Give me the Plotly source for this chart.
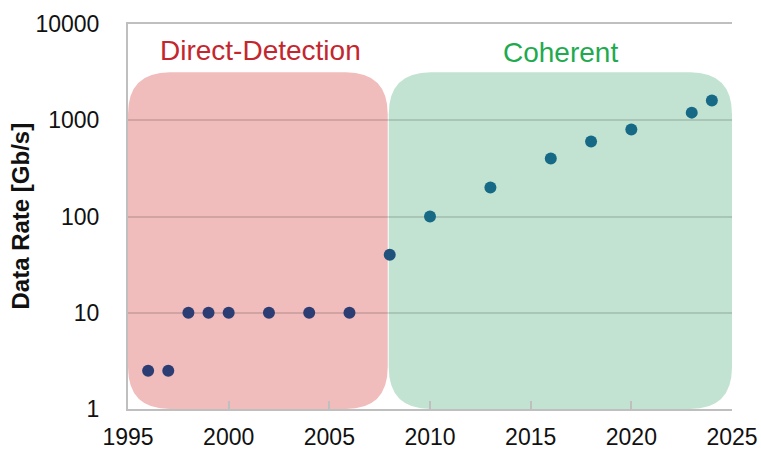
import math
import plotly.graph_objects as go

# ---- data ----
dd_years = [1996, 1997, 1998, 1999, 2000, 2002, 2004, 2006]
dd_rates = [2.5, 2.5, 10, 10, 10, 10, 10, 10]
tr_years = [2008]
tr_rates = [40]
coh_years = [2010, 2013, 2016, 2018, 2020, 2023, 2024]
coh_rates = [100, 200, 400, 600, 800, 1200, 1600]

x_ticks = [1995, 2000, 2005, 2010, 2015, 2020, 2025]
y_ticks = [1, 10, 100, 1000, 10000]
y_tick_text = ["1", "10", "100", "1000", "10000"]

regions = ["Direct-Detection", "Coherent"]
region_x0 = [1995, 2007.95]
region_x1 = [2007.9, 2025]
region_top = 10 ** 3.5
region_fill = ["#F0BCBC", "#C2E3D1"]
region_text_color = ["#C4262E", "#1FAA4F"]

# ---- layout geometry ----
W, H = 761, 450
ML, MR, MT, MB = 128, 29, 24, 41
PW, PH = W - ML - MR, H - MT - MB
XR = [1995, 2025]
YR = [0, 4]


def px(x):
    return (x - XR[0]) / (XR[1] - XR[0])


def py(y):
    return (math.log10(y) - YR[0]) / (YR[1] - YR[0])


def rounded_rect(x0, x1, y0, y1, r=42):
    rx, ry = r / PW, r / PH
    return (f"M {x0+rx},{y0} L {x1-rx},{y0} Q {x1},{y0} {x1},{y0+ry} "
            f"L {x1},{y1-ry} Q {x1},{y1} {x1-rx},{y1} "
            f"L {x0+rx},{y1} Q {x0},{y1} {x0},{y1-ry} "
            f"L {x0},{y0+ry} Q {x0},{y0} {x0+rx},{y0} Z")


fig = go.Figure()
fig.add_trace(go.Scatter(x=dd_years, y=dd_rates, mode="markers",
                         marker=dict(size=12, color="#2B3D73"), showlegend=False))
fig.add_trace(go.Scatter(x=tr_years, y=tr_rates, mode="markers",
                         marker=dict(size=12, color="#20537C"), showlegend=False))
fig.add_trace(go.Scatter(x=coh_years, y=coh_rates, mode="markers",
                         marker=dict(size=12, color="#176A86"), showlegend=False))

shapes = []
annotations = []
for i, name in enumerate(regions):
    x0, x1 = px(region_x0[i]), px(region_x1[i])
    shapes.append(dict(type="path", xref="paper", yref="paper",
                       path=rounded_rect(x0, x1, 0, py(region_top)),
                       fillcolor=region_fill[i], line=dict(width=0), layer="below"))
    annotations.append(dict(text=name, xref="paper", yref="paper",
                            x=(x0 + x1) / 2 + (0.005 if i == 0 else 0.0),
                            y=0.93 if i == 0 else 0.925,
                            xanchor="center", yanchor="middle", showarrow=False,
                            font=dict(size=28, color=region_text_color[i],
                                      family="Liberation Sans, Arial")))

annotations.append(dict(text="<b>Data Rate [Gb/s]</b>", xref="paper", yref="paper",
                        x=(20 - ML) / PW, y=0.5, textangle=-90,
                        xanchor="center", yanchor="middle", showarrow=False,
                        font=dict(size=24, color="#111", family="Liberation Sans, Arial")))

fig.update_layout(
    width=W, height=H,
    margin=dict(l=ML, r=MR, t=MT, b=MB),
    plot_bgcolor="white", paper_bgcolor="white",
    font=dict(family="Liberation Sans, Arial", size=23, color="#111"),
    shapes=shapes, annotations=annotations,
    xaxis=dict(range=XR, tickvals=x_ticks, ticks="inside", ticklen=8, tickwidth=2,
               tickcolor="#BFBFBF", showline=True, linecolor="#BFBFBF", linewidth=2,
               mirror=True, showgrid=False, zeroline=False, automargin=False,
               ticklabelstandoff=6, tickfont=dict(size=23)),
    yaxis=dict(type="log", range=YR, tickvals=y_ticks, ticktext=y_tick_text,
               showline=True, linecolor="#BFBFBF", linewidth=2, mirror=False,
               showgrid=True, gridcolor="rgba(0,0,0,0.13)", gridwidth=2, zeroline=False,
               automargin=False, ticks="", ticklabelstandoff=22, tickfont=dict(size=23)),
)

fig.write_html("out.html", config={"displayModeBar": False},
               post_script="document.body.style.margin='0';document.body.style.overflow='hidden';")
